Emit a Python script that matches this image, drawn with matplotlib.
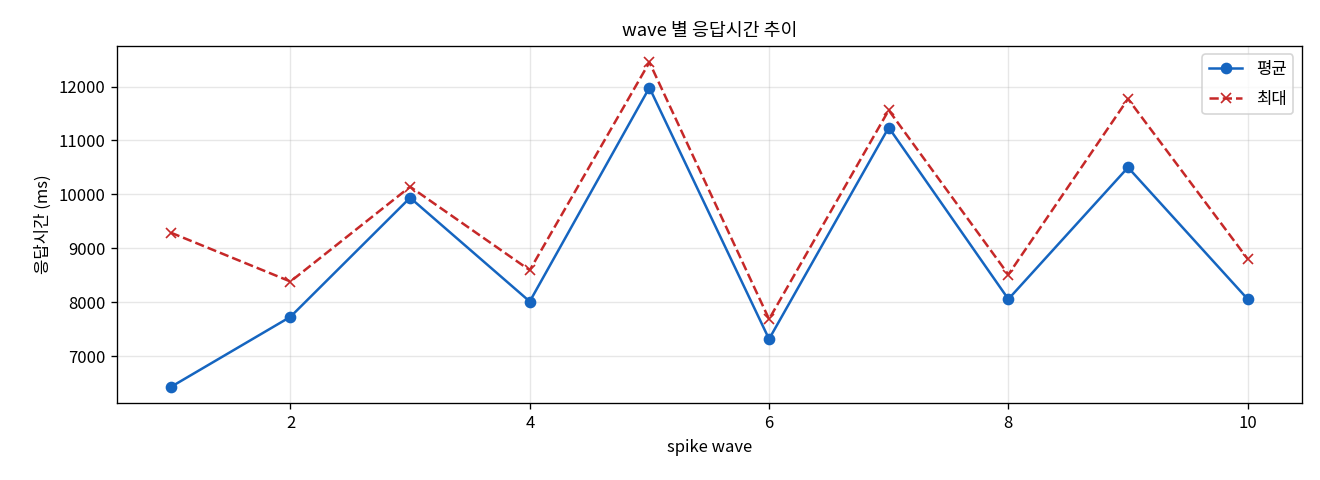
import matplotlib
matplotlib.use('Agg')
import matplotlib.pyplot as plt

plt.rcParams['font.family'] = ['Noto Sans CJK KR', 'DejaVu Sans']
plt.rcParams['axes.unicode_minus'] = False

waves = [1, 2, 3, 4, 5, 6, 7, 8, 9, 10]
avg_ms = [6426, 7728, 9938, 8012, 11981, 7315, 11241, 8056, 10500, 8056]
max_ms = [9290, 8383, 10142, 8593, 12451, 7685, 11562, 8512, 11772, 8802]

fig, ax = plt.subplots(figsize=(11, 4), dpi=120)
fig.subplots_adjust(left=0.0886, right=0.986, top=0.904, bottom=0.160)

ax.plot(waves, avg_ms, marker='o', color='#1565C0', label='평균')
ax.plot(waves, max_ms, marker='x', linestyle='--', color='#C62828', label='최대')

ax.set_title('wave 별 응답시간 추이', fontsize=11)
ax.set_xlabel('spike wave', fontsize=10)
ax.set_ylabel('응답시간 (ms)', fontsize=10)
ax.tick_params(labelsize=10)
ax.grid(True, alpha=0.3)
ax.legend(loc='upper right', fontsize=10, labelspacing=0.75)

fig.savefig('out.png')
